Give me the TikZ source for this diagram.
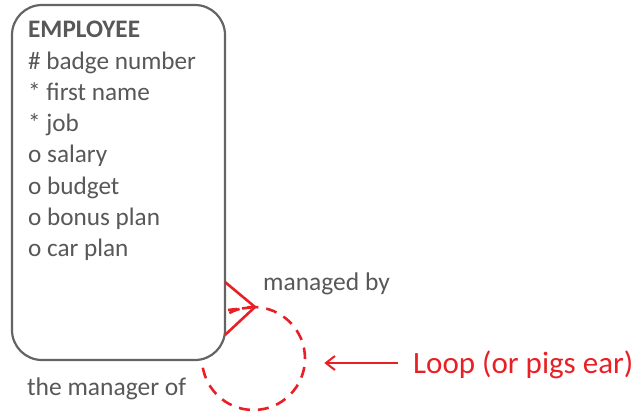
\documentclass[tikz,border=0pt]{standalone}
\usepackage{fontspec}
\setmainfont{Carlito}
\usetikzlibrary{arrows.meta}
\definecolor{lred}{RGB}{232,32,38}
\definecolor{tgray}{RGB}{88,88,88}
\definecolor{bgray}{RGB}{100,100,100}
\tikzset{
  x=1pt,y=1pt,
  redline/.style={draw=lred,line width=2.6pt},
  attr/.style={text=tgray,font=\fontsize{25.2}{31.3}\selectfont,align=left,inner sep=0pt},
  lbl/.style={text=tgray,font=\fontsize{25.5}{28}\selectfont,inner sep=0pt},
}
\begin{document}
\begin{tikzpicture}
\useasboundingbox (0,0) rectangle (635,-412);
% loop circle (drawn first, box covers part)
\node[circle,redline,dash pattern=on 11pt off 8pt,minimum size=103pt,inner sep=0pt] (loop) at (253.5,-358.5) {};
% entity box
\node[draw=bgray,line width=2.2pt,fill=white,rounded corners=30pt,minimum width=213pt,minimum height=355pt,inner sep=0pt] (emp) at (118.5,-182.5) {};
\node[attr,anchor=north west] (attrs) at (28,-21) {\textbf{EMPLOYEE}\\\# badge number\\* first name\\* job\\o salary\\o budget\\o bonus plan\\o car plan};
% crow's foot
\coordinate (apex) at (255,-307);
\coordinate (f1) at (225,-282);
\coordinate (f2) at (228,-310);
\coordinate (f3) at (225,-335);
\draw[redline] (f1) -- (apex) -- (f3);
\draw[redline,dash pattern=on 9pt off 5pt] (f2) -- (apex);
% labels
\node[lbl,anchor=base west] (mb) at (263,-290) {managed by};
\node[lbl,anchor=base west] (mo) at (27,-395) {the manager of};
\node[anchor=base west,text=lred,font=\fontsize{31}{34}\selectfont,inner sep=0pt] (note) at (413,-373) {Loop (or pigs ear)};
\draw[draw=lred,line width=2pt,shorten <=15pt,shorten >=18pt,-{Straight Barb[length=9pt,width=14pt]}] ([yshift=10pt]note.base west) -- ([yshift=10pt]note.base west -| loop.east);
\end{tikzpicture}
\end{document}
